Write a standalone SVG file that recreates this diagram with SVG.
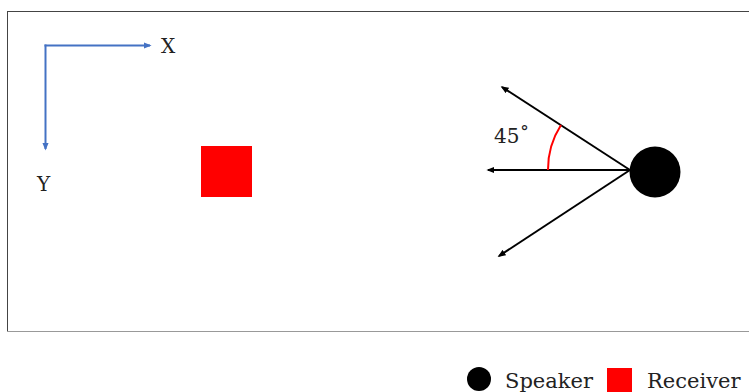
<svg xmlns="http://www.w3.org/2000/svg" width="749" height="392" viewBox="0 0 749 392">
<defs>
<style>
.t{font-family:"DejaVu Serif","Liberation Serif",serif;fill:#222}
.ray{stroke:#000;stroke-width:2;fill:none;marker-end:url(#ah)}
.ax{stroke:#4472C4;stroke-width:2;fill:none;marker-end:url(#ab)}
</style>
<marker id="ah" viewBox="0 0 10 10" refX="8" refY="5" markerWidth="4" markerHeight="4" orient="auto" markerUnits="strokeWidth"><path d="M0,1 L10,5 L0,9 Z" fill="#000"/></marker>
<marker id="ab" viewBox="0 0 10 10" refX="8" refY="5" markerWidth="4" markerHeight="4" orient="auto" markerUnits="strokeWidth"><path d="M0,1 L10,5 L0,9 Z" fill="#4472C4"/></marker>
</defs>
<rect width="749" height="392" fill="#fff"/>
<g id="frame" fill="none">
<line x1="7.5" y1="11.5" x2="749" y2="11.5" stroke="#444" stroke-width="1"/>
<line x1="7.5" y1="11" x2="7.5" y2="331" stroke="#444" stroke-width="1"/>
<line x1="7" y1="331.5" x2="749" y2="331.5" stroke="#999" stroke-width="1"/>
</g>
<g id="axes">
<line class="ax" x1="44.5" y1="45.5" x2="150" y2="45.5"/>
<line class="ax" x1="45.5" y1="44.5" x2="45.5" y2="149"/>
<text class="t" x="161" y="53" font-size="20">X</text>
<text class="t" x="37" y="191" font-size="20">Y</text>
</g>
<g id="receiver"><rect x="201" y="146" width="51" height="51" fill="#FF0000"/></g>
<g id="connectors">
<line class="ray" x1="630" y1="170" x2="502" y2="87"/>
<line class="ray" x1="630" y1="170" x2="488" y2="170"/>
<line class="ray" x1="630" y1="170" x2="499" y2="256"/>
<path d="M548,170 A82,82 0 0 1 561,125" stroke="#FF0000" stroke-width="2" fill="none"/>
</g>
<g id="angle"><text class="t" x="494" y="143" font-size="20">45˚</text></g>
<g id="speaker"><circle cx="655" cy="172" r="25.5" fill="#000"/></g>
<g id="legend">
<circle cx="479" cy="379" r="12" fill="#000"/>
<text class="t" x="505" y="388" font-size="21">Speaker</text>
<rect x="607" y="368" width="25" height="24" fill="#FF0000"/>
<text class="t" x="647" y="388" font-size="21">Receiver</text>
</g>
</svg>
